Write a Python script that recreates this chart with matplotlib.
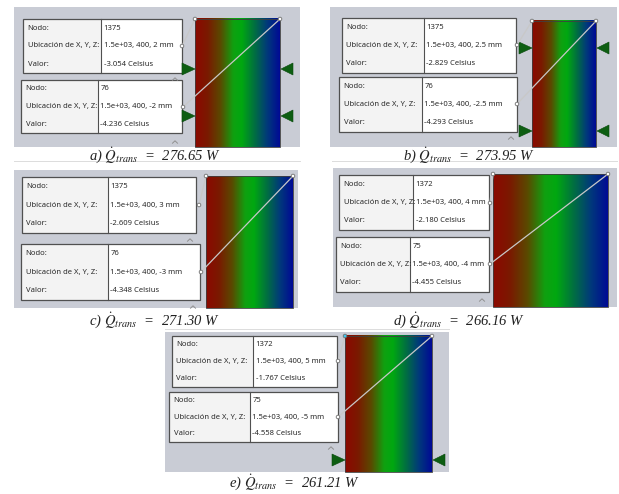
import matplotlib
matplotlib.use("Agg")
import matplotlib.pyplot as plt
import numpy as np
from matplotlib.colors import LinearSegmentedColormap
from matplotlib.patches import Rectangle, Polygon, Circle

plt.rcParams['mathtext.fontset'] = 'stix'

# ---- data ----
panel_labels = ['a)', 'b)', 'c)', 'd)', 'e)']
q_trans = [276.65, 273.95, 271.30, 266.16, 261.21]
node_top = [1375, 1375, 1375, 1372, 1372]
node_bot = [76, 76, 76, 75, 75]
z_top = ['2', '2.5', '3', '4', '5']
z_bot = ['-2', '-2.5', '-3', '-4', '-5']
val_top = ['-3.054', '-2.829', '-2.609', '-2.180', '-1.767']
val_bot = ['-4.236', '-4.293', '-4.348', '-4.455', '-4.558']
loc_xy = '1.5e+03, 400'
row_labels = ['Nodo:', 'Ubicación de X, Y, Z:', 'Valor:']

# ---- layout (pixel coordinates) ----
layout = [
    dict(grey=(14, 7, 300, 147), cbar=(195, 19, 280), b1=(23, 19, 182, 73, 101), b2=(21, 80, 182, 133, 98),
         l1=(182, 46), l2=(183, 107), tri=[69, 116], carets=[(175, 79), (175, 142)], cap=(155, 155), cyan=False),
    dict(grey=(330, 7, 617, 147), cbar=(532, 21, 596), b1=(342, 18, 516, 73, 424), b2=(339, 77, 517, 132, 422),
         l1=(517, 45), l2=(517, 104), tri=[48, 131], carets=[(511, 138)], cap=(469, 155), cyan=False),
    dict(grey=(14, 170, 298, 308), cbar=(206, 176, 293), b1=(22, 177, 196, 233, 108), b2=(21, 244, 200, 300, 108),
         l1=(199, 205), l2=(201, 272), tri=[], carets=[(190, 240), (193, 307)], cap=(155, 320), cyan=False),
    dict(grey=(333, 168, 617, 307), cbar=(493, 174, 608), b1=(339, 175, 489, 230, 413), b2=(336, 237, 489, 292, 410),
         l1=(490, 203), l2=(490, 264), tri=[], carets=[(482, 300)], cap=(459, 320), cyan=False),
    dict(grey=(165, 332, 449, 472), cbar=(345, 336, 432), b1=(172, 336, 337, 387, 253), b2=(169, 392, 338, 442, 250),
         l1=(338, 361), l2=(338, 417), tri=[460], carets=[(331, 448)], cap=(295, 482), cyan=True),
]

cmap = LinearSegmentedColormap.from_list('rgb_t', [
    (0.0, '#8c0800'), (0.15, '#7a1a00'), (0.3, '#5a4a00'), (0.45, '#10a010'),
    (0.55, '#00a810'), (0.7, '#007040'), (0.85, '#003a7a'), (1.0, '#000a95')])

W, H = 619, 494
fig = plt.figure(figsize=(W / 100, H / 100), dpi=100)
ax = fig.add_axes([0, 0, 1, 1])
ax.set_xlim(0, W)
ax.set_ylim(H, 0)
ax.axis('off')

grad = np.linspace(0, 1, 256).reshape(1, -1)
txtfont = dict(family='Noto Sans', fontsize=5.5, color='#2a2a2a', va='center', ha='left')


def draw_box(x0, y0, x1, y1, div, vals):
    ax.add_patch(Rectangle((x0 + 1.2, y0 + 1.2), x1 - x0, y1 - y0, facecolor='#8a8a8a', edgecolor='none', zorder=3))
    ax.add_patch(Rectangle((x0, y0), div - x0, y1 - y0, facecolor='#f3f3f3', edgecolor='none', zorder=4))
    ax.add_patch(Rectangle((div, y0), x1 - div, y1 - y0, facecolor='white', edgecolor='none', zorder=4))
    ax.add_patch(Rectangle((x0, y0), x1 - x0, y1 - y0, facecolor='none', edgecolor='#505050', lw=0.9, zorder=5))
    ax.plot([div, div], [y0, y1], color='#505050', lw=0.8, zorder=5)
    h = y1 - y0
    for k in range(3):
        yy = y0 + h * (2 * k + 1) / 6
        ax.text(x0 + 4.5, yy, row_labels[k], zorder=6, **txtfont)
        ax.text(div + 2.5, yy, vals[k], zorder=6, **txtfont)


for i, L in enumerate(layout):
    gx0, gy0, gx1, gy1 = L['grey']
    ax.add_patch(Rectangle((gx0, gy0), gx1 - gx0, gy1 - gy0, facecolor='#c9ccd5', edgecolor='none', zorder=1))
    cx0, cy0, cx1 = L['cbar']
    ax.imshow(grad, cmap=cmap, aspect='auto', extent=(cx0, cx1, gy1, cy0), zorder=2, interpolation='bilinear')
    ax.add_patch(Rectangle((cx0, cy0), cx1 - cx0, gy1 - cy0, facecolor='none', edgecolor='#404040', lw=0.6, zorder=2.5))

    b1 = L['b1']
    b2 = L['b2']
    draw_box(*b1, [str(node_top[i]), f'{loc_xy}, {z_top[i]} mm', f'{val_top[i]} Celsius'])
    draw_box(*b2, [str(node_bot[i]), f'{loc_xy}, {z_bot[i]} mm', f'{val_bot[i]} Celsius'])

    # leader lines
    lx1, ly1 = L['l1']
    lx2, ly2 = L['l2']
    ax.plot([lx1, cx0], [ly1, cy0], color='#c8c8c8', lw=0.9, zorder=7)
    ax.plot([lx2, cx1], [ly2, cy0], color='#c8c8c8', lw=0.9, zorder=7)
    for (px, py) in [(lx1, ly1), (lx2, ly2), (cx1, cy0)]:
        ax.add_patch(Circle((px, py), 1.8, facecolor='white', edgecolor='#707070', lw=0.6, zorder=8))
    ax.add_patch(Circle((cx0, cy0), 1.8, facecolor='#40c8f0' if L['cyan'] else 'white',
                        edgecolor='#707070', lw=0.6, zorder=8))

    # triangles
    for ty in L['tri']:
        ax.add_patch(Polygon([(cx0 - 13, ty - 6), (cx0 - 13, ty + 6), (cx0, ty)], closed=True,
                             facecolor='#0d5e12', edgecolor='#0a4a0e', lw=0.4, zorder=6))
        ax.add_patch(Polygon([(cx1 + 13, ty - 6), (cx1 + 13, ty + 6), (cx1 + 1, ty)], closed=True,
                             facecolor='#0d5e12', edgecolor='#0a4a0e', lw=0.4, zorder=6))

    # carets
    for (kx, ky) in L['carets']:
        ax.plot([kx - 2.5, kx, kx + 2.5], [ky + 1.2, ky - 1.2, ky + 1.2], color='#909090', lw=0.7, zorder=6)

    # caption
    capx, capy = L['cap']
    ax.text(capx, capy, f"{panel_labels[i]} " + r"$\dot{Q}_{trans}$" + f"  =  {q_trans[i]:.2f} W",
            family='Liberation Serif', style='italic', fontsize=10.5, color='#222222',
            ha='center', va='center', zorder=9)

# faint frame lines between panels
ax.plot([14, 300], [161, 161], color='#dcdcdc', lw=0.7, zorder=0.5)
ax.plot([332, 617], [161, 161], color='#dcdcdc', lw=0.7, zorder=0.5)
ax.plot([165, 449], [329, 329], color='#dcdcdc', lw=0.7, zorder=0.5)

fig.savefig('out.png', dpi=100)
